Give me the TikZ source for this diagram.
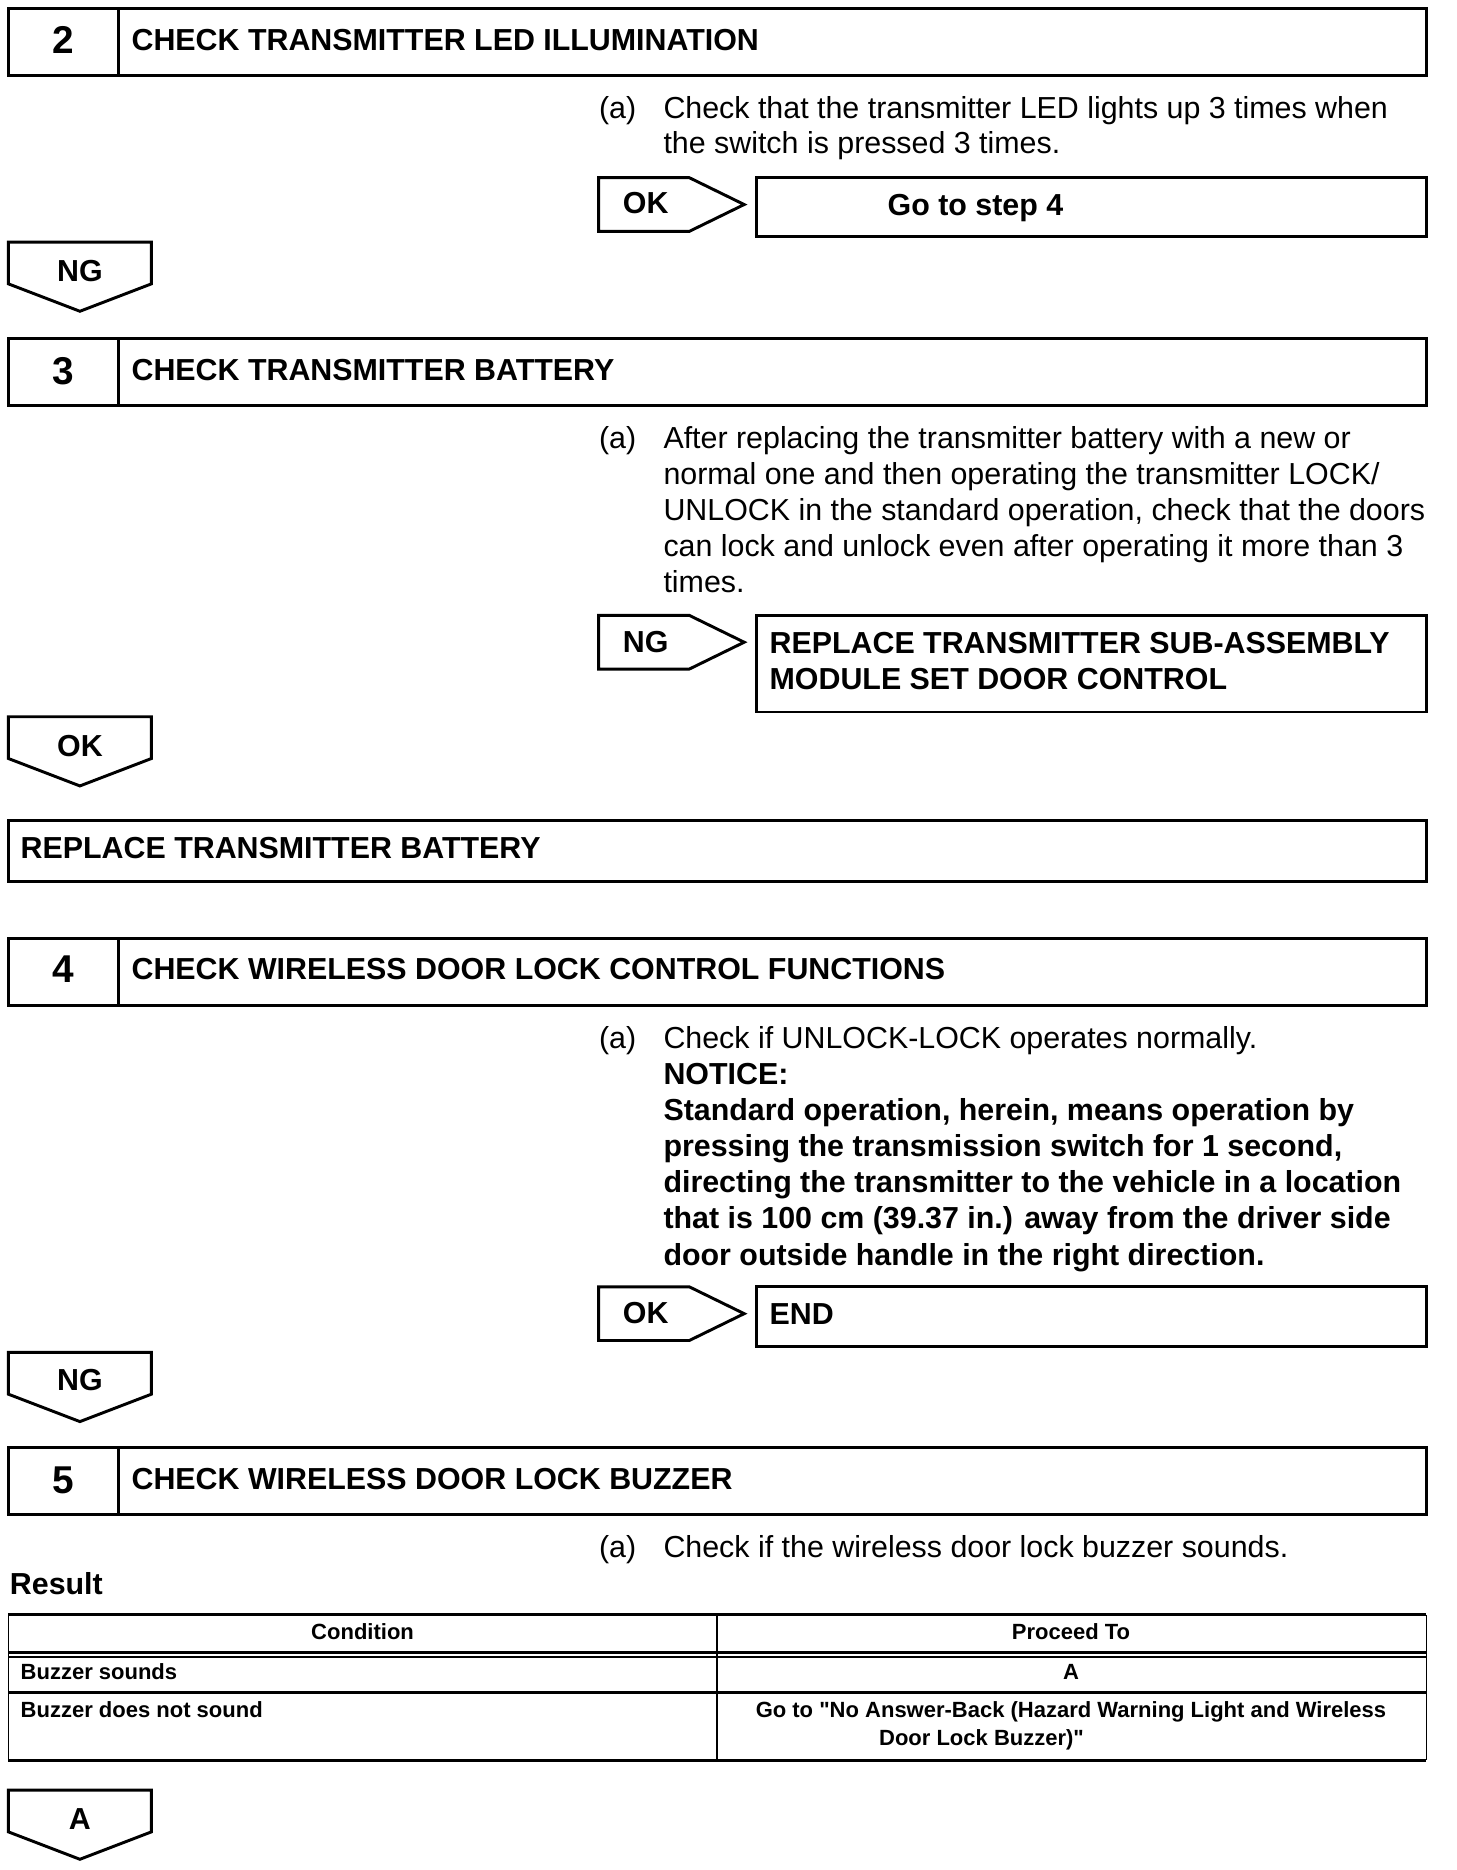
\documentclass[tikz,border=0pt]{standalone}
\usepackage{fontspec}
\setmainfont{Liberation Sans}
\usepackage{tikz}

\begin{document}
\begin{tikzpicture}[x=0.02cm, y=-0.02cm,
  box/.style={line width=1.4pt, line join=miter},
  rule/.style={line width=1.5pt},
  thinrule/.style={line width=0.8pt},
  body/.style={anchor=base west, inner sep=0pt, font=\fontsize{14.5}{17}\selectfont},
  bodybold/.style={anchor=base west, inner sep=0pt, font=\fontsize{14.5}{17}\selectfont\bfseries},
  tag/.style={anchor=base, inner sep=0pt, font=\fontsize{14.5}{17}\selectfont\bfseries},
  stepnum/.style={anchor=base, inner sep=0pt, font=\fontsize{18.5}{22}\selectfont\bfseries},
  tabtext/.style={anchor=base west, inner sep=0pt, font=\fontsize{10.5}{13}\selectfont\bfseries},
  tabmid/.style={anchor=base, inner sep=0pt, font=\fontsize{10.5}{13}\selectfont\bfseries}]
  \useasboundingbox (0,0) rectangle (1221,1568);

  %% 1. Step 2
  \draw[box] (7,7) rectangle (1196,63);
  \draw[box] (99,7) -- (99,63);
  \node[stepnum] (num2) at (53,45) {2};
  \node[bodybold] (title2) at (110,42) {CHECK TRANSMITTER LED ILLUMINATION};
  \node[body] (item2) at (502,99) {(a)};
  \foreach \ln [count=\i from 0] in {{Check that the transmitter LED lights up 3 times when},
      {the switch is pressed 3 times.}}
    \node[body] (chk2-\i) at (556,99+30*\i) {\ln};
  \draw[box] (502,149) -- (578,149) -- (624,171.5) -- (578,194) -- (502,194) -- cycle;
  \node[bodybold] (ok2) at (522,179) {OK};
  \draw[box] (634,149) rectangle (1196,198);
  \node[bodybold] (goto4) at (744,181) {Go to step 4};
  \draw[box] (7,203) -- (127,203) -- (127,238) -- (67,261) -- (7,238) -- cycle;
  \node[tag] (ng2) at (67,236) {NG};

  %% 2. Step 3
  \draw[box] (7,284) rectangle (1196,340);
  \draw[box] (99,284) -- (99,340);
  \node[stepnum] (num3) at (53,322) {3};
  \node[bodybold] (title3) at (110,319) {CHECK TRANSMITTER BATTERY};
  \node[body] (item3) at (502,376) {(a)};
  \foreach \ln [count=\i from 0] in {{After replacing the transmitter battery with a new or},
      {normal one and then operating the transmitter LOCK/},
      {UNLOCK in the standard operation, check that the doors},
      {can lock and unlock even after operating it more than 3},
      {times.}}
    \node[body] (chk3-\i) at (556,376+30.3*\i) {\ln};
  \draw[box] (502,516) -- (578,516) -- (624,538.5) -- (578,561) -- (502,561) -- cycle;
  \node[bodybold] (ng3) at (522,547) {NG};
  \draw[box] (634,516) rectangle (1196,597);
  \node[bodybold] (repl1) at (645,548) {REPLACE TRANSMITTER SUB-ASSEMBLY};
  \node[bodybold] (repl2) at (645,578) {MODULE SET DOOR CONTROL};
  \draw[box] (7,601) -- (127,601) -- (127,636) -- (67,659) -- (7,636) -- cycle;
  \node[tag] (ok3) at (67,634) {OK};
  \draw[box] (7,688) rectangle (1196,739);
  \node[bodybold] (replbat) at (17,720) {REPLACE TRANSMITTER BATTERY};

  %% 3. Step 4
  \draw[box] (7,787) rectangle (1196,843);
  \draw[box] (99,787) -- (99,843);
  \node[stepnum] (num4) at (53,824) {4};
  \node[bodybold] (title4) at (110,821) {CHECK WIRELESS DOOR LOCK CONTROL FUNCTIONS};
  \node[body] (item4) at (502,879) {(a)};
  \node[body] (chk4) at (556,879) {Check if UNLOCK-LOCK operates normally.};
  \foreach \ln [count=\i from 1] in {{NOTICE:},
      {Standard operation, herein, means operation by},
      {pressing the transmission switch for 1 second,},
      {directing the transmitter to the vehicle in a location},
      {that is 100 cm (39.37 in.) away from the driver side},
      {door outside handle in the right direction.}}
    \node[bodybold] (note4-\i) at (556,879+30.3*\i) {\ln};
  \draw[box] (502,1079) -- (578,1079) -- (624,1101.5) -- (578,1124) -- (502,1124) -- cycle;
  \node[bodybold] (ok4) at (522,1110) {OK};
  \draw[box] (634,1079) rectangle (1196,1129);
  \node[bodybold] (end) at (645,1111) {END};
  \draw[box] (7,1134) -- (127,1134) -- (127,1169) -- (67,1192) -- (7,1169) -- cycle;
  \node[tag] (ng4) at (67,1166) {NG};

  %% 4. Step 5
  \draw[box] (7,1214) rectangle (1196,1270);
  \draw[box] (99,1214) -- (99,1270);
  \node[stepnum] (num5) at (53,1252) {5};
  \node[bodybold] (title5) at (110,1249) {CHECK WIRELESS DOOR LOCK BUZZER};
  \node[body] (item5) at (502,1306) {(a)};
  \node[body] (chk5) at (556,1306) {Check if the wireless door lock buzzer sounds.};
  \node[bodybold] (result) at (8,1337) {Result};

  %% 5. Result table
  \draw[rule] (7,1354) -- (1196,1354);
  \draw[rule] (7,1476) -- (1196,1476);
  \draw[thinrule] (7,1354) -- (7,1476);
  \draw[thinrule] (1196,1354) -- (1196,1476);
  \draw[thinrule] (601,1354) -- (601,1476);
  \draw[rule] (7,1385.5) -- (1196,1385.5);
  \draw[thinrule] (7,1389.5) -- (1196,1389.5);
  \draw[rule] (7,1419) -- (1196,1419);
  \node[tabmid] (cond) at (304,1375) {Condition};
  \node[tabmid] (proc) at (898,1375) {Proceed To};
  \node[tabtext] (buzz1) at (17,1408) {Buzzer sounds};
  \node[tabmid] (gotoA) at (898,1408) {A};
  \node[tabtext] (buzz2) at (17,1440) {Buzzer does not sound};
  \node[tabmid] (nab1) at (898,1440) {Go to \textquotedbl No Answer-Back (Hazard Warning Light and Wireless};
  \node[tabmid] (nab2) at (823,1464) {Door Lock Buzzer)\textquotedbl};

  %% 6. Exit A
  \draw[box] (7,1501) -- (127,1501) -- (127,1536) -- (67,1559) -- (7,1536) -- cycle;
  \node[tag] (exitA) at (67,1534) {A};
\end{tikzpicture}
\end{document}
